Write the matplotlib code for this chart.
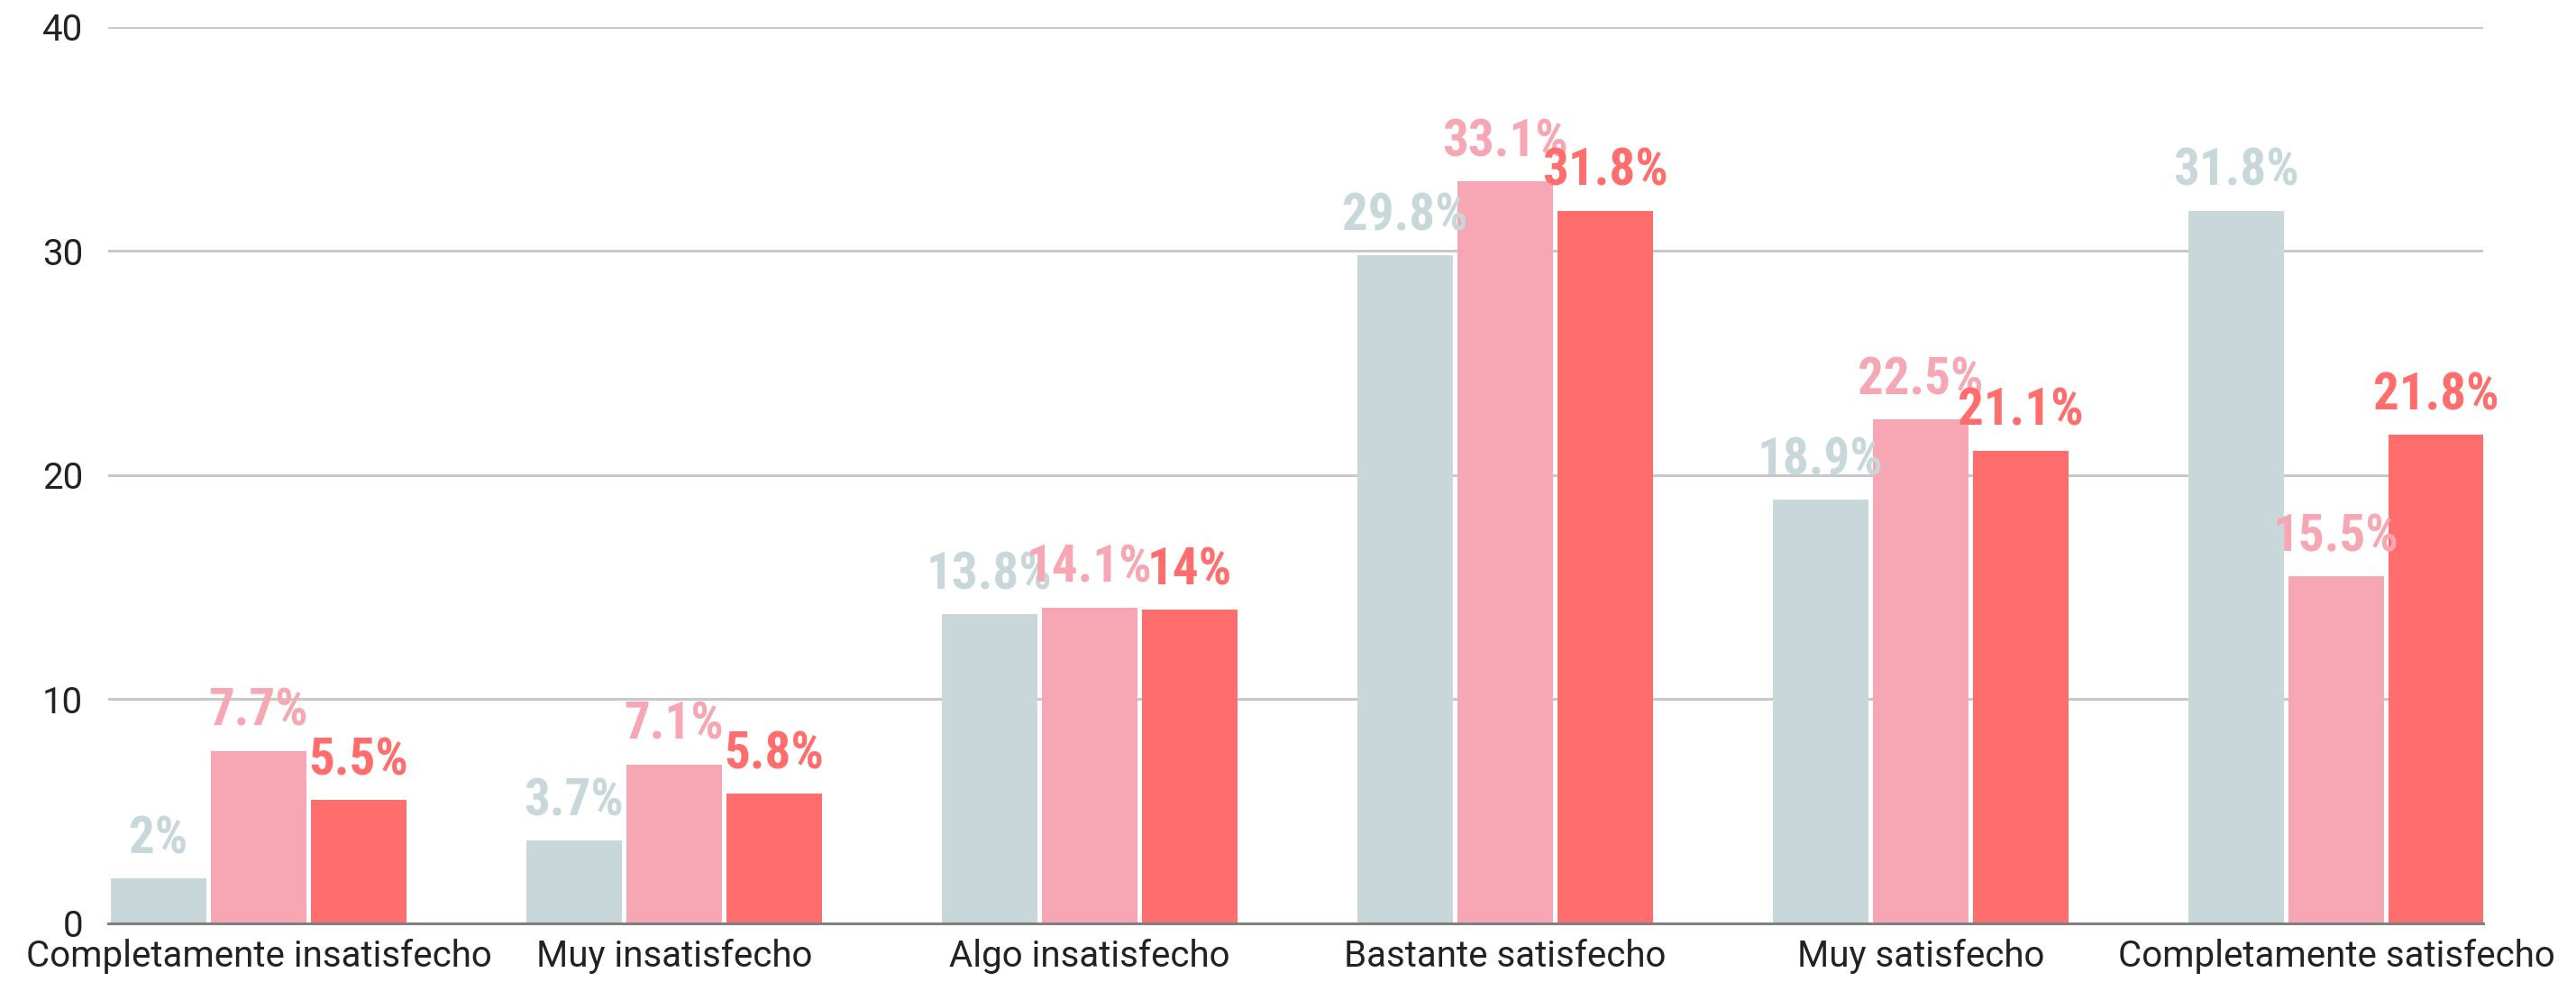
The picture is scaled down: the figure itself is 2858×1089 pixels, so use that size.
import matplotlib
matplotlib.use('Agg')
import matplotlib.pyplot as plt
import numpy as np

# categories and the three series (percent)
categories = ['Completamente insatisfecho', 'Muy insatisfecho', 'Algo insatisfecho',
              'Bastante satisfecho', 'Muy satisfecho', 'Completamente satisfecho']
serie_a = [2, 3.7, 13.8, 29.8, 18.9, 31.8]
serie_b = [7.7, 7.1, 14.1, 33.1, 22.5, 15.5]
serie_c = [5.5, 5.8, 14, 31.8, 21.1, 21.8]
yticks = [0, 10, 20, 30, 40]

colors = ['#C7D7DA', '#F6A7B3', '#FF6D6D']
label_font = ['Roboto Condensed', 'Fira Sans Condensed', 'DejaVu Sans']
tick_font = ['Roboto', 'Liberation Sans', 'DejaVu Sans']

fig = plt.figure(figsize=(28.58, 10.89), dpi=100)
ax = fig.add_axes([0.042, 0.0597, 0.922, 0.9128])

x = np.arange(len(categories))
width = 0.23
step = 0.241

for i, (vals, col) in enumerate(zip([serie_a, serie_b, serie_c], colors)):
    pos = x + (i - 1) * step
    ax.bar(pos, vals, width=width, color=col, zorder=3)
    # value labels above each bar, same colour as the bar
    for px, v in zip(pos, vals):
        ax.annotate(f'{v:g}%', (px, v), xytext=(0, 20), textcoords='offset points',
                    ha='center', va='baseline', color=col, fontsize=41,
                    fontweight='bold', family=label_font, zorder=4)

ax.set_xlim(-0.362, 5.354)
ax.set_ylim(0, 40)
ax.set_yticks(yticks)
ax.set_xticks(x)
ax.set_xticklabels(categories)

ax.grid(axis='y', color='#C8C8C8', linewidth=2.2, zorder=0)
for s in ['top', 'right', 'left']:
    ax.spines[s].set_visible(False)
ax.spines['bottom'].set_color('#808080')
ax.spines['bottom'].set_linewidth(2.2)
ax.spines['bottom'].set_zorder(5)

ax.tick_params(axis='both', length=0, labelsize=29, colors='#222222')
ax.tick_params(axis='y', pad=20)
ax.tick_params(axis='x', pad=12)
for t in ax.get_xticklabels() + ax.get_yticklabels():
    t.set_family(tick_font)

fig.savefig('out.png', dpi=100)
